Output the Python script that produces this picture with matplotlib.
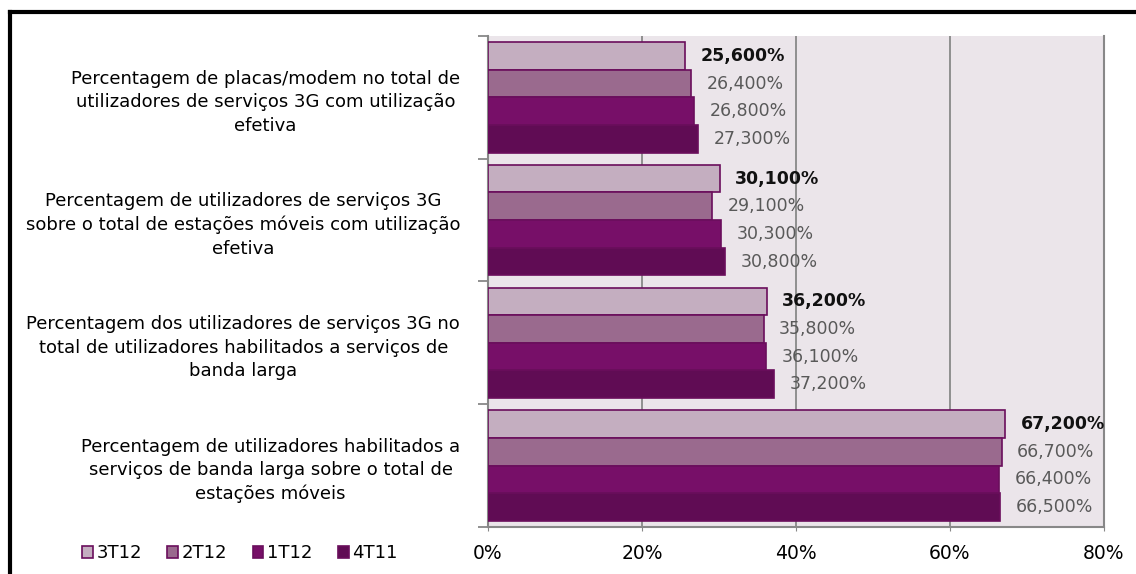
import numpy as np
import matplotlib
matplotlib.use('Agg')
import matplotlib.pyplot as plt
from matplotlib.lines import Line2D

### DATA ###
categories = [
    "Percentagem de placas/modem no total de\nutilizadores de serviços 3G com utilização\nefetiva",
    "Percentagem de utilizadores de serviços 3G\nsobre o total de estações móveis com utilização\nefetiva",
    "Percentagem dos utilizadores de serviços 3G no\ntotal de utilizadores habilitados a serviços de\nbanda larga",
    "Percentagem de utilizadores habilitados a\nserviços de banda larga sobre o total de\nestações móveis",
]
series_names = ["3T12", "2T12", "1T12", "4T11"]
v_3T12 = [25.6, 30.1, 36.2, 67.2]
v_2T12 = [26.4, 29.1, 35.8, 66.7]
v_1T12 = [26.8, 30.3, 36.1, 66.4]
v_4T11 = [27.3, 30.8, 37.2, 66.5]
x_ticks = [0, 20, 40, 60, 80]
x_tick_labels = ["0%", "20%", "40%", "60%", "80%"]

series_values = [v_3T12, v_2T12, v_1T12, v_4T11]
colors = ["#C4AEC0", "#9A6A8E", "#770F68", "#600C54"]
edge = "#6A0E5C"

### PLOT ###
fig = plt.figure(figsize=(11.36, 5.74), dpi=100)
ax = fig.add_axes([0.4296, 0.0819, 0.5422, 0.8554])
ax.set_facecolor("#EBE5EA")

y = np.arange(len(categories))
h = 0.225
for k, (name, vals, col) in enumerate(zip(series_names, series_values, colors)):
    pos = y + (k - 1.5) * h
    ax.barh(pos, vals, height=h, color=col, edgecolor=edge, linewidth=1.2,
            label=name, zorder=3)
    for p, v in zip(pos, vals):
        txt = f"{v:.3f}".replace(".", ",") + "%"
        if k == 0:
            ax.annotate(txt, (v, p), xytext=(11, 0), textcoords="offset points",
                        va="center", ha="left", fontsize=12.5, fontweight="bold",
                        color="#111111", zorder=4)
        else:
            ax.annotate(txt, (v, p), xytext=(11, 0), textcoords="offset points",
                        va="center", ha="left", fontsize=12.5, color="#595959",
                        zorder=4)

ax.set_xlim(0, 80)
ax.set_ylim(3.5, -0.5)
ax.set_xticks(x_ticks)
ax.set_xticklabels(x_tick_labels, fontsize=13.5)
ax.tick_params(axis="x", length=3, color="#888888", pad=9)
ax.grid(axis="x", color="#888888", linewidth=1.3, zorder=1)

ax.set_yticks(np.arange(-0.5, 4, 1), minor=False)
ax.set_yticklabels([])
ax.tick_params(axis="y", length=7, color="#888888", width=1.3)
ax.set_yticks(y, minor=True)
ax.set_yticklabels(categories, minor=True, fontsize=13, multialignment="center",
                   linespacing=1.4)
ax.tick_params(axis="y", which="minor", length=0, pad=20)

for s in ["left", "bottom", "right"]:
    ax.spines[s].set_color("#888888")
    ax.spines[s].set_linewidth(1.5)
ax.spines["top"].set_visible(False)

fig.legend(loc="lower left", bbox_to_anchor=(0.058, -0.008), ncol=4, frameon=False,
           handlelength=0.6, handleheight=0.6, handletextpad=0.2, columnspacing=1.4,
           fontsize=13)

# outer black frame
fig.add_artist(Line2D([10 / 1136, 10 / 1136], [0, 1 - 12 / 574], transform=fig.transFigure,
                      color="black", linewidth=3))
fig.add_artist(Line2D([10 / 1136, 1], [1 - 12 / 574, 1 - 12 / 574], transform=fig.transFigure,
                      color="black", linewidth=3))

fig.savefig("out.png", dpi=100)
